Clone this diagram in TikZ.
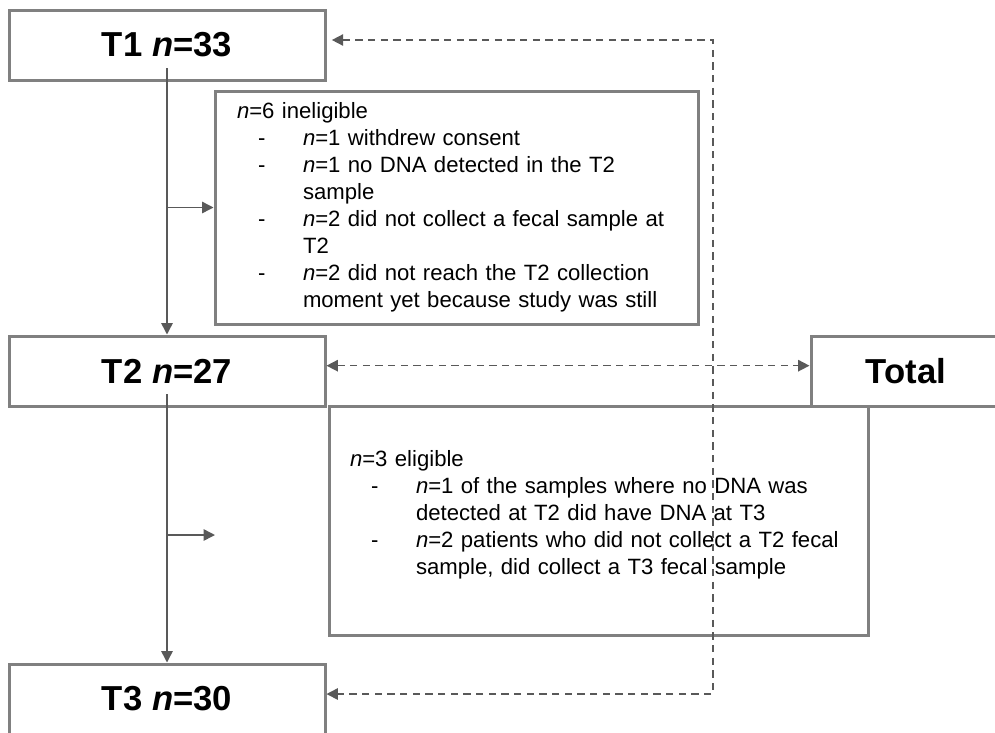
\documentclass[tikz,border=0pt]{standalone}
\usepackage{fontspec}
\setmainfont{Liberation Sans}
\usepackage{tikz}
\usetikzlibrary{arrows.meta}
\definecolor{oqoqoq}{rgb}{0.5019607843137255,0.5019607843137255,0.5019607843137255}
\definecolor{zpzpzp}{rgb}{0.34901960784313724,0.34901960784313724,0.34901960784313724}
\newcommand{\dashitem}[1]{\hspace*{15.75pt}\makebox[33.75pt][l]{-}\mbox{#1}}
\newcommand{\itemcont}[1]{\hspace*{49.5pt}\mbox{#1}}

\begin{document}
\begin{tikzpicture}[line join=miter,>={Triangle[length=8.5pt,width=8.5pt]},x=0.75pt,y=-0.75pt,
timebox/.style={draw=oqoqoq,line width=2.25pt,minimum width=237pt,minimum height=52.5pt,font=\fontsize{26}{30}\selectfont\bfseries},
notebox/.style={draw=oqoqoq,line width=2.25pt,align=left,font=\fontsize{16.6}{20.2}\selectfont},
flow/.style={draw=zpzpzp,line width=1.1pt},
dashflow/.style={draw=zpzpzp,line width=1.2pt,dash pattern=on 5.5pt off 4pt}]
\clip (0,0) rectangle (995,732);
\node[timebox] (t1) at (167,45) {T1 \textit{n}=33};
\node[timebox] (t2) at (167,371) {T2 \textit{n}=27};
\node[timebox] (t3) at (167,699) {T3 \textit{n}=30};
\node[timebox,minimum width=142.5pt] (total) at (906,371) {Total};
\node[notebox,text width=329.25pt,inner xsep=16.5pt,minimum height=174.75pt] (inel) at (456.5,207.5) {\textit{n}=6 ineligible\\
\dashitem{\textit{n}=1 withdrew consent}\\
\dashitem{\textit{n}=1 no DNA detected in the T2}\\
\itemcont{sample}\\
\dashitem{\textit{n}=2 did not collect a fecal sample at}\\
\itemcont{T2}\\
\dashitem{\textit{n}=2 did not reach the T2 collection}\\
\itemcont{moment yet because study was still}};
\node[notebox,text width=372.75pt,inner xsep=15.75pt,minimum height=171.75pt] (elig) at (598.5,520.5) {\textit{n}=3 eligible\\
\dashitem{\textit{n}=1 of the samples where no DNA was}\\
\itemcont{detected at T2 did have DNA at T3}\\
\dashitem{\textit{n}=2 patients who did not collect a T2 fecal}\\
\itemcont{sample, did collect a T3 fecal sample}\rule[-12pt]{0pt}{12pt}};
\coordinate (eligend) at (215,535);
\coordinate (loopup) at (713,40);
\coordinate (loopdown) at (713,694);
% main flow
\draw[flow,->] ([yshift=10pt]t1.south) -- (t2.north);
\draw[flow,->] ([yshift=10pt]t2.south) -- (t3.north);
\draw[flow,->] (t1.south |- inel.west) -- (inel.west);
\draw[flow,->] (t2.south |- eligend) -- (eligend);
% dashed links
\draw[dashflow,<->,shorten <=4pt] (t1.east |- loopup) -- (loopup) -- (loopdown) -- (t3.east |- loopdown);
\draw[dashflow,<->] ([yshift=4pt]t2.east) -- ([yshift=4pt]total.west);
\end{tikzpicture}
\end{document}
